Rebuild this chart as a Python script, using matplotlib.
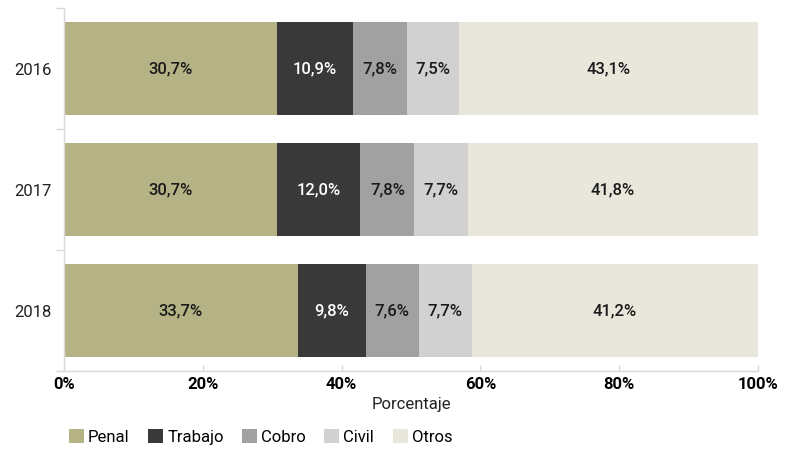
import matplotlib.pyplot as plt
import numpy as np

plt.rcParams['font.family'] = ['Roboto', 'DejaVu Sans']

years = ['2016', '2017', '2018']
categories = ['Penal', 'Trabajo', 'Cobro', 'Civil', 'Otros']
penal = [30.7, 30.7, 33.7]
trabajo = [10.9, 12.0, 9.8]
cobro = [7.8, 7.8, 7.6]
civil = [7.5, 7.7, 7.7]
otros = [43.1, 41.8, 41.2]

series = [penal, trabajo, cobro, civil, otros]
colors = ['#b5b386', '#393939', '#a1a1a1', '#d1d1d1', '#e9e7dc']
text_colors = ['#1a1a1a', 'white', '#1a1a1a', '#1a1a1a', '#1a1a1a']

fig = plt.figure(figsize=(7.93, 4.53), dpi=100)
ax = fig.add_axes([0.0807, 0.181, 0.8752, 0.801])

y = np.arange(len(years))
left = np.zeros(len(years))
for name, vals, c, tc in zip(categories, series, colors, text_colors):
    vals = np.array(vals)
    ax.barh(y, vals, left=left, height=0.77, color=c, label=name)
    for yi, l, v in zip(y, left, vals):
        ax.text(l + v / 2, yi, f'{v:.1f}%'.replace('.', ','), ha='center', va='center',
                color=tc, fontsize=12, fontweight='medium')
    left += vals

ax.set_xlim(0, 100)
ax.set_ylim(2.5, -0.5)
ax.set_yticks(y)
ax.set_yticklabels(years, fontsize=12, color='#222222')
ax.set_yticks([-0.5, 0.5, 1.5, 2.5], minor=True)
ax.tick_params(axis='y', which='major', length=0, pad=9)
ax.tick_params(axis='y', which='minor', length=6, color='#d9d9d9', width=1)

ax.set_xticks(np.arange(0, 101, 20))
ax.set_xticklabels([f'{v}%' for v in range(0, 101, 20)], fontsize=12, fontweight='bold')
ax.tick_params(axis='x', direction='in', length=4, color='#d9d9d9', width=1, pad=4)
ax.set_xlabel('Porcentaje', fontsize=12, labelpad=4, color='#222222')

for s in ['top', 'right']:
    ax.spines[s].set_visible(False)
for s in ['left', 'bottom']:
    ax.spines[s].set_color('#d9d9d9')
    ax.spines[s].set_linewidth(1)

fig.legend(loc='lower left', bbox_to_anchor=(0.068, -0.015), ncol=5, frameon=False,
           fontsize=12, handlelength=0.9, handleheight=0.9, handletextpad=0.25,
           columnspacing=1.1)

fig.savefig('out.png', dpi=100)
